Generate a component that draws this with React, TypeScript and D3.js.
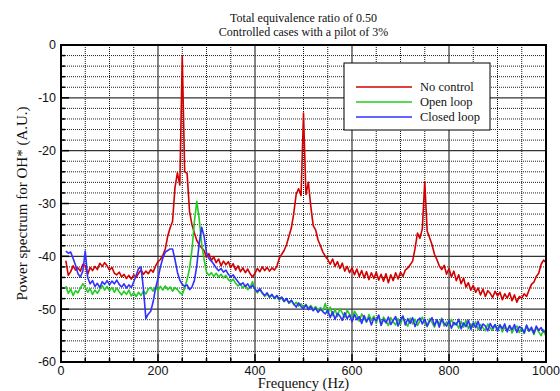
import React from 'react';
import * as d3 from 'd3';

// frequency bins (Hz) of the spectra
const freqs = d3.range(10, 1001, 5);

// No control
const noControl = [
  -40.8, -43.6, -42.9, -41.8, -42.6, -42.2, -42.8, -41.5,
  -41.8, -43.4, -42.1, -42.7, -41.9, -42.5, -41.3, -41.9, -41.2, -41.8,
  -42.6, -42.1, -43.2, -43.5, -43.0, -43.9, -43.4, -44.2, -43.6, -44.3,
  -43.5, -44.0, -43.2, -42.6, -43.4, -42.8, -43.3, -42.5, -43.0, -41.8,
  -41.0, -40.6, -39.8, -38.6, -36.2, -34.6, -33.4, -27.0, -24.2, -26.5,
  -2.2, -24.0, -24.3, -31.5, -34.0, -35.6, -37.0, -37.8, -38.4, -38.9,
  -40.2, -39.5, -40.8, -40.1, -41.2, -40.5, -41.8, -40.9, -41.6, -41.0,
  -42.1, -41.4, -42.6, -41.8, -42.9, -42.2, -43.1, -42.4, -43.3, -43.9,
  -43.2, -42.3, -42.9, -42.0, -42.7, -42.1, -42.8, -42.2, -42.6, -41.9,
  -40.4, -39.6, -38.9, -37.8, -36.2, -34.6, -31.8, -28.2, -27.2, -28.5,
  -12.9, -28.3, -26.0, -30.5, -34.2, -35.0, -36.9, -38.0, -39.2, -40.0,
  -40.6, -41.5, -40.5, -41.9, -41.0, -42.3, -41.3, -42.8, -41.9, -43.1,
  -42.2, -43.5, -42.4, -43.8, -42.7, -44.1, -42.9, -44.4, -43.1, -44.2,
  -43.0, -44.5, -43.4, -44.7, -43.3, -45.0, -43.5, -44.6, -43.1, -44.3,
  -43.0, -43.8, -42.6, -42.2, -41.6, -40.9, -38.5, -35.6, -36.6, -34.8,
  -25.9, -35.2, -36.5, -37.8, -39.6, -40.6, -41.8, -42.5, -41.7, -43.4,
  -42.3, -43.9, -42.8, -44.6, -43.5, -45.2, -44.1, -45.8, -45.0, -46.4,
  -45.5, -46.8, -46.0, -47.3, -46.2, -47.6, -46.5, -47.0, -47.8, -46.6,
  -47.5, -46.8, -48.2, -47.1, -47.9, -46.9, -48.4, -47.3, -48.7, -47.6,
  -47.9, -47.1, -47.6, -46.4, -45.3, -44.9, -43.8, -43.2, -41.5, -40.7,
  -41.2,
];

// Open loop
const openLoop = [
  -45.6, -47.0, -46.2, -47.4, -46.5, -46.9, -46.0, -45.2,
  -45.8, -46.8, -46.1, -47.2, -46.4, -47.0, -46.2, -45.5, -46.4, -45.7,
  -46.5, -45.9, -46.8, -46.0, -46.7, -47.3, -46.6, -47.2, -46.4, -47.5,
  -46.9, -47.6, -46.8, -47.4, -46.6, -47.1, -46.2, -45.9, -46.6, -45.8,
  -46.5, -45.7, -46.4, -45.6, -46.3, -45.8, -46.6, -45.9, -46.3, -46.9,
  -47.2, -46.0, -44.4, -42.3, -38.8, -33.5, -29.6, -33.0, -37.6, -40.6,
  -43.0, -43.6, -43.1, -43.8, -43.2, -43.9, -43.4, -44.1, -43.6, -44.4,
  -44.8, -44.3, -45.1, -45.6, -45.2, -46.0, -45.5, -46.3, -45.8, -44.8,
  -46.4, -46.9, -46.3, -47.0, -47.6, -47.1, -47.8, -47.3, -48.0, -47.5,
  -48.3, -47.8, -48.6, -48.1, -48.9, -48.4, -49.2, -48.7, -49.4, -49.0,
  -49.6, -49.1, -49.8, -49.3, -50.0, -49.5, -50.2, -49.7, -50.3, -48.9,
  -50.9, -49.6, -51.2, -50.0, -51.4, -49.9, -50.7, -51.6, -50.2, -51.0,
  -51.8, -50.4, -51.1, -52.3, -50.9, -51.7, -52.5, -51.0, -52.1, -51.3,
  -52.6, -51.2, -52.9, -51.5, -52.2, -53.1, -51.6, -52.4, -53.0, -51.8,
  -52.9, -51.4, -52.6, -53.2, -51.7, -52.8, -51.9, -53.1, -52.2, -51.5,
  -52.7, -53.3, -51.8, -52.5, -53.4, -52.0, -52.9, -51.7, -53.2, -52.4,
  -53.1, -51.9, -53.0, -52.6, -53.6, -52.3, -53.4, -52.1, -53.7, -52.8,
  -53.3, -52.4, -53.9, -52.9, -53.5, -54.1, -52.8, -53.6, -54.0, -53.0,
  -53.8, -52.9, -54.3, -53.4, -54.0, -53.1, -54.5, -53.6, -53.2, -54.4,
  -53.5, -54.6, -53.3, -54.2, -53.7, -54.8, -53.4, -54.3, -55.0, -53.9,
  -55.2,
];

// Closed loop
const closedLoop = [
  -39.0, -39.4, -39.2, -40.4, -41.7, -43.3, -43.9, -42.8,
  -39.0, -44.0, -45.2, -44.6, -45.7, -45.1, -45.9, -44.8, -45.3, -44.6,
  -45.4, -44.7, -45.2, -44.5, -45.3, -45.8, -45.2, -46.0, -45.4, -45.9,
  -44.8, -43.6, -42.3, -42.0, -46.2, -51.8, -50.9, -50.4, -48.6, -46.0,
  -44.2, -42.0, -40.3, -39.2, -38.9, -38.6, -38.6, -40.6, -43.0, -44.5,
  -45.3, -45.7, -45.4, -46.3, -45.8, -44.6, -41.8, -37.5, -34.5, -36.2,
  -39.3, -40.4, -40.9, -41.5, -42.2, -42.7, -42.3, -43.0, -42.6, -43.4,
  -43.9, -43.5, -44.2, -44.8, -45.4, -45.0, -45.7, -45.2, -46.0, -45.5,
  -46.2, -46.7, -46.1, -46.9, -47.4, -46.9, -47.7, -47.2, -47.9, -47.4,
  -48.1, -47.7, -48.5, -48.0, -48.8, -48.3, -49.0, -49.6, -48.8, -49.5,
  -49.9, -49.2, -50.1, -49.5, -50.3, -49.8, -50.6, -50.0, -50.5, -50.9,
  -50.2, -51.6, -50.5, -51.9, -50.8, -51.3, -52.1, -50.7, -51.8, -51.1,
  -52.4, -51.0, -52.0, -51.4, -52.7, -51.2, -52.3, -51.6, -53.0, -51.7,
  -52.2, -51.1, -53.1, -51.9, -52.6, -51.5, -52.9, -52.1, -51.4, -53.2,
  -52.0, -51.3, -53.0, -51.8, -52.7, -51.6, -53.3, -52.2, -51.7, -52.8,
  -51.9, -53.2, -52.3, -51.6, -53.1, -52.0, -53.4, -51.9, -52.7, -53.2,
  -52.2, -53.6, -52.5, -53.0, -51.9, -53.7, -52.6, -53.3, -52.1, -53.8,
  -52.6, -53.5, -52.3, -53.9, -52.8, -53.2, -54.1, -52.7, -53.6, -52.9,
  -54.2, -53.0, -53.7, -52.8, -54.3, -53.1, -53.9, -52.9, -54.4, -53.3,
  -53.6, -54.5, -53.0, -54.1, -53.4, -54.6, -53.2, -54.0, -53.5, -54.3,
  -54.1,
];

const seriesNames = ['No control', 'Open loop', 'Closed loop'];
const seriesColors = ['#d40000', '#22cc22', '#3030ff'];
const seriesValues = [noControl, openLoop, closedLoop];

const xMajor = [0, 200, 400, 600, 800, 1000];
const xMinor = d3.range(0, 1001, 50);
const yMajor = [0, -10, -20, -30, -40, -50, -60];
const yMinor = d3.range(-60, 1, 2);

const W = 560;
const H = 391;
const margin = { top: 45, right: 14, bottom: 29, left: 61 };

const sans = "'Liberation Sans', Arimo, Arial, Helvetica, sans-serif";
const serif = "'Liberation Serif', Tinos, 'Times New Roman', Times, 'DejaVu Serif', serif";

export default function App() {
  const x = d3.scaleLinear().domain([0, 1000]).range([margin.left, W - margin.right]);
  const y = d3.scaleLinear().domain([-60, 0]).range([H - margin.bottom, margin.top]);

  const line = d3.line<[number, number]>()
    .x(d => x(d[0]))
    .y(d => y(d[1]));

  const [x0, x1] = x.range();
  const [y0, y1] = y.range(); // y0 bottom, y1 top

  return (
    <svg width={W} height={H} style={{ position: 'absolute', left: 0, top: 0, background: '#fff' }}>
      <defs>
        <clipPath id="plot">
          <rect x={x0} y={y1} width={x1 - x0} height={y0 - y1} />
        </clipPath>
      </defs>

      {/* grid */}
      {yMinor.filter(v => v % 10 !== 0).map(v => (
        <line key={'ym' + v} x1={x0} x2={x1} y1={y(v)} y2={y(v)}
          stroke="#222" strokeWidth={1} strokeDasharray="1,1" />
      ))}
      {xMinor.filter(v => v % 200 !== 0).map(v => (
        <line key={'xm' + v} x1={x(v)} x2={x(v)} y1={y1} y2={y0}
          stroke="#111" strokeWidth={1} strokeDasharray="1,1" />
      ))}
      {yMajor.map(v => (
        <line key={'yM' + v} x1={x0} x2={x1} y1={y(v)} y2={y(v)} stroke="#333" strokeWidth={1.2} />
      ))}
      {xMajor.map(v => (
        <line key={'xM' + v} x1={x(v)} x2={x(v)} y1={y1} y2={y0} stroke="#333" strokeWidth={1.2} />
      ))}

      {/* spectra */}
      <g clipPath="url(#plot)">
        {seriesValues.map((vals, i) => (
          <path key={seriesNames[i]}
            d={line(vals.map((v, j) => [freqs[j], v] as [number, number])) || ''}
            fill="none" stroke={seriesColors[i]} strokeWidth={1.6} strokeLinejoin="round" />
        ))}
      </g>

      {/* ticks */}
      {yMinor.map(v => (
        <line key={'yt' + v} x1={x0} x2={x0 + (v % 10 === 0 ? 8 : 4)} y1={y(v)} y2={y(v)} stroke="#000" strokeWidth={1.5} />
      ))}
      {xMinor.map(v => (
        <line key={'xt' + v} x1={x(v)} x2={x(v)} y1={y0} y2={y0 - (v % 200 === 0 ? 8 : 4)} stroke="#000" strokeWidth={1.5} />
      ))}

      {/* frame */}
      <rect x={x0} y={y1} width={x1 - x0} height={y0 - y1} fill="none" stroke="#000" strokeWidth={2} />

      {/* tick labels */}
      {yMajor.map(v => (
        <text key={'yl' + v} x={x0 - 5} y={y(v)} dy="0.35em" textAnchor="end"
          style={{ fontFamily: sans, fontSize: 12.5 }} fill="#111">{v}</text>
      ))}
      {xMajor.map(v => (
        <text key={'xl' + v} x={x(v)} y={y0 + 13} textAnchor="middle"
          style={{ fontFamily: sans, fontSize: 12.5 }} fill="#111">{v}</text>
      ))}

      {/* titles */}
      <text x={(x0 + x1) / 2} y={22} textAnchor="middle" style={{ fontFamily: serif, fontSize: 12 }} fill="#111">
        Total equivalence ratio of 0.50
      </text>
      <text x={(x0 + x1) / 2} y={36} textAnchor="middle" style={{ fontFamily: serif, fontSize: 12 }} fill="#111">
        Controlled cases with a pilot of 3%
      </text>
      <text x={(x0 + x1) / 2} y={388} textAnchor="middle" style={{ fontFamily: serif, fontSize: 14.5 }} fill="#111">
        Frequency (Hz)
      </text>
      <text transform={`translate(27,${(y0 + y1) / 2}) rotate(-90)`} textAnchor="middle"
        style={{ fontFamily: serif, fontSize: 15 }} fill="#111">
        Power spectrum for OH* (A.U.)
      </text>

      {/* legend */}
      <g>
        <rect x={344} y={63} width={146} height={67} fill="#fff" stroke="#000" strokeWidth={1} />
        {seriesNames.map((name, i) => (
          <g key={name}>
            <line x1={356} x2={412} y1={87 + i * 15} y2={87 + i * 15} stroke={seriesColors[i]} strokeWidth={1.6} />
            <text x={420} y={87 + i * 15} dy="0.35em" style={{ fontFamily: serif, fontSize: 12.5 }} fill="#111">{name}</text>
          </g>
        ))}
      </g>
    </svg>
  );
}
